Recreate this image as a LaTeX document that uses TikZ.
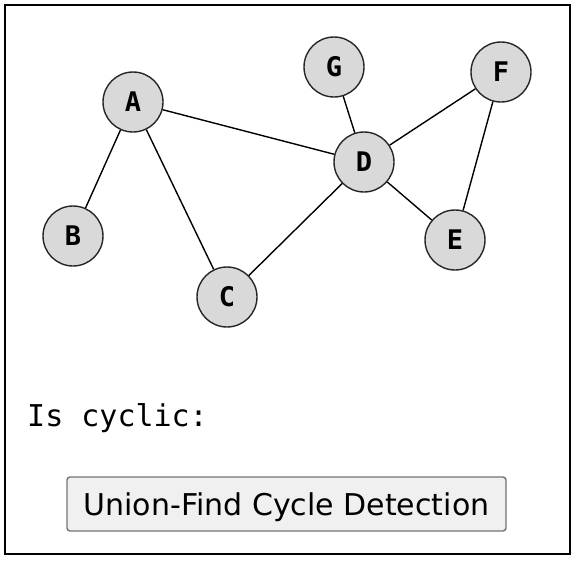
\documentclass[tikz,border=0pt]{standalone}
\usepackage{fontspec}
\setmainfont{DejaVu Sans}
\setmonofont{DejaVu Sans Mono}
\begin{document}
\begin{tikzpicture}[x=1pt,y=-1pt,
  vtx/.style={circle,draw=black!85,line width=1.4pt,fill=black!15,minimum size=60pt,inner sep=0pt,font=\fontsize{27}{27}\selectfont\ttfamily\bfseries},
  edge/.style={line width=1.4pt,black}]
\useasboundingbox (0,0) rectangle (576,560);
\draw[line width=2.2pt] (5,5) rectangle (570,554);
\node[vtx] (A) at (133,102) {A};
\node[vtx] (B) at (73,236) {B};
\node[vtx] (C) at (227,297) {C};
\node[vtx] (D) at (364,162) {D};
\node[vtx] (E) at (455,240) {E};
\node[vtx] (F) at (501,72) {F};
\node[vtx] (G) at (334,67) {G};
\draw[edge] (A) -- (B);
\draw[edge] (A) -- (C);
\draw[edge] (A) -- (D);
\draw[edge] (D) -- (C);
\draw[edge] (D) -- (G);
\draw[edge] (D) -- (F);
\draw[edge] (D) -- (E);
\draw[edge] (F) -- (E);
\node[anchor=base west,inner sep=0pt,font=\fontsize{30}{30}\selectfont\ttfamily] (L) at (27,426) {Is cyclic:};
\node[draw=black!55,fill=black!6,line width=1.4pt,rounded corners=3pt,minimum width=439pt,minimum height=54pt,inner sep=0pt] (btn) at (286.5,504) {};
\node[anchor=base,inner sep=0pt,font=\fontsize{30}{30}\selectfont] (btnlabel) at (286.5,515) {Union-Find Cycle Detection};
\end{tikzpicture}
\end{document}
